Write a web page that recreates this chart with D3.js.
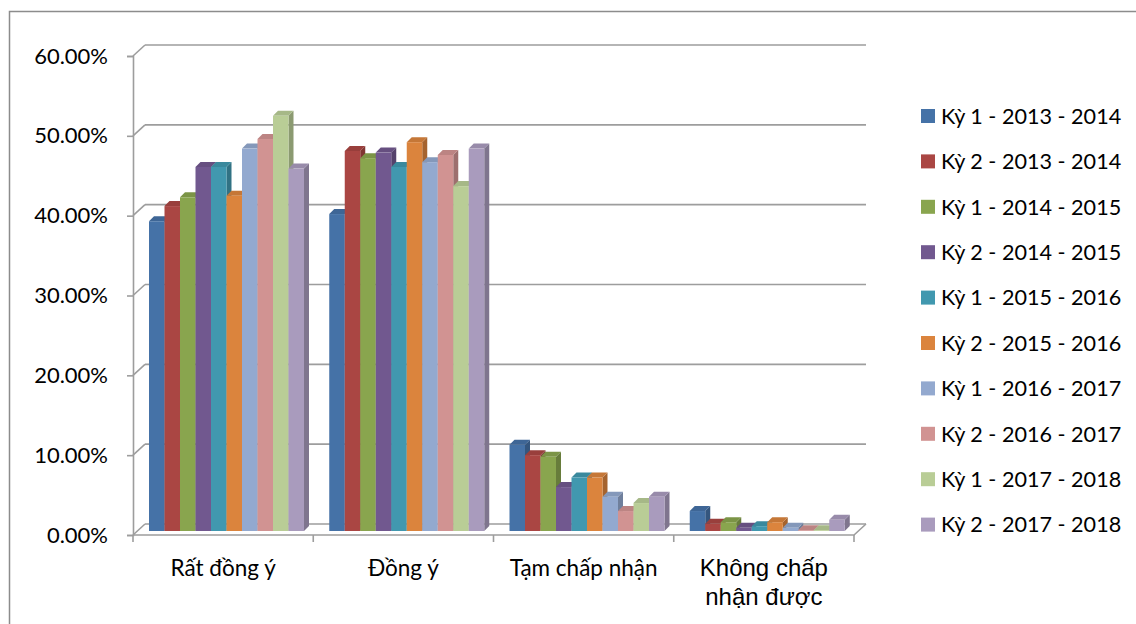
<!DOCTYPE html>
<html>
<head>
<meta charset="utf-8">
<script src="https://cdn.jsdelivr.net/npm/d3@7"></script>
<style>
  body { margin: 0; background: #fff; }
  svg { display: block; font-family: Lato, "Open Sans", sans-serif; }
</style>
</head>
<body>
<div class="container"></div>
<script>
// categories + series
const categories = ["Rất đồng ý", "Đồng ý", "Tạm chấp nhận", "Không chấp nhận được"];
const series = [
  "Kỳ 1 - 2013 - 2014", "Kỳ 2 - 2013 - 2014", "Kỳ 1 - 2014 - 2015", "Kỳ 2 - 2014 - 2015",
  "Kỳ 1 - 2015 - 2016", "Kỳ 2 - 2015 - 2016", "Kỳ 1 - 2016 - 2017", "Kỳ 2 - 2016 - 2017",
  "Kỳ 1 - 2017 - 2018", "Kỳ 2 - 2017 - 2018"
];
const colors = ["#4572a7", "#aa4643", "#89a54e", "#71588f", "#4198af",
  "#db843d", "#93a9cf", "#d19392", "#b9cd96", "#a99bbd"];

// one array per category, values in the order of series
const ratDongY = [0.388, 0.407, 0.418, 0.456, 0.456, 0.420, 0.479, 0.491, 0.520, 0.454];
const dongY = [0.397, 0.476, 0.467, 0.474, 0.456, 0.487, 0.462, 0.471, 0.432, 0.479];
const tamChapNhan = [0.108, 0.095, 0.093, 0.055, 0.067, 0.067, 0.043, 0.025, 0.035, 0.043];
const khongChapNhan = [0.025, 0.009, 0.011, 0.004, 0.006, 0.011, 0.004, 0.001, 0.001, 0.014];
const values = [ratDongY, dongY, tamChapNhan, khongChapNhan];

const yTicks = [0, 0.1, 0.2, 0.3, 0.4, 0.5, 0.6];

const W = 1136, H = 624;
const depth = { dx: 12, dy: -11 }; // wall depth
const bd = 5; // bar depth

const svg = d3.select(".container").append("svg")
  .attr("width", W).attr("height", H);

// outer frame
svg.append("path")
  .attr("d", `M9.5,${H} V11.5 H${W}`)
  .attr("fill", "none").attr("stroke", "#8c8c8c").attr("stroke-width", 1.5);

const x = d3.scaleBand().domain(categories).range([133, 854]).paddingInner(0).paddingOuter(0);
const y = d3.scaleLinear().domain([0, 0.6]).range([535, 56]);
const yBack = y.copy().range([535 + depth.dy, 56 + depth.dy]);
const yBar = y.copy().range([531, 52]);
const x1 = d3.scaleBand().domain(series).range([16, 171]);
const color = d3.scaleOrdinal().domain(series).range(colors);

const grid = svg.append("g");
const xL = 133, xR = 854;

// back wall gridlines
grid.selectAll(".gl").data(yTicks).join("line")
  .attr("x1", xL + depth.dx).attr("x2", xR + depth.dx)
  .attr("y1", d => yBack(d)).attr("y2", d => yBack(d))
  .attr("stroke", "#9d9d9d").attr("stroke-width", 1.6);

// left wall diagonals
grid.selectAll(".dg").data(yTicks).join("line")
  .attr("x1", xL).attr("x2", xL + depth.dx)
  .attr("y1", d => y(d)).attr("y2", d => yBack(d))
  .attr("stroke", "#9d9d9d").attr("stroke-width", 1.6);

// floor outline
grid.append("path")
  .attr("d", `M${xL},${y(0)} H${xR} L${xR + depth.dx},${yBack(0)}`)
  .attr("fill", "none").attr("stroke", "#9d9d9d").attr("stroke-width", 1.6);

// bars
const flat = [];
categories.forEach((c, i) => {
  series.forEach((s, j) => flat.push({ cat: c, s: s, v: values[i][j] }));
});

const w = x1.bandwidth();
const bars = svg.append("g").selectAll("g").data(flat).join("g");

bars.each(function (d) {
  const g = d3.select(this);
  const x0 = x(d.cat) + x1(d.s);
  const yt = yBar(d.v), yb = yBar(0);
  const c = d3.color(color(d.s));
  // side
  g.append("path")
    .attr("d", `M${x0 + w},${yt} L${x0 + w + bd},${yt - bd} L${x0 + w + bd},${yb - bd} L${x0 + w},${yb} Z`)
    .attr("fill", c.darker(0.8));
  // top
  g.append("path")
    .attr("d", `M${x0},${yt} L${x0 + bd},${yt - bd} L${x0 + w + bd},${yt - bd} L${x0 + w},${yt} Z`)
    .attr("fill", c.darker(0.3));
  // front
  g.append("rect")
    .attr("x", x0).attr("y", yt)
    .attr("width", w).attr("height", yb - yt)
    .attr("fill", c);
});

// y axis
const yAxis = svg.append("g")
  .attr("transform", `translate(${xL},0)`)
  .call(d3.axisLeft(y).tickValues(yTicks).tickFormat(d3.format(".2%")).tickSize(6).tickPadding(19));
yAxis.select(".domain").attr("stroke", "#9d9d9d").attr("stroke-width", 1.6);
yAxis.selectAll(".tick line").attr("stroke", "#9d9d9d").attr("stroke-width", 1.6);
yAxis.selectAll(".tick text")
  .style("font-family", "Lato, sans-serif").style("font-size", "22px").attr("fill", "#000");

// x axis boundary ticks
const bounds = categories.map(c => x(c)).concat([xR]);
svg.append("g").selectAll("line").data(bounds).join("line")
  .attr("x1", d => d).attr("x2", d => d)
  .attr("y1", y(0)).attr("y2", y(0) + 7)
  .attr("stroke", "#9d9d9d").attr("stroke-width", 1.6);

// category labels
const labels = svg.append("g").selectAll("text").data(categories).join("text")
  .attr("x", d => x(d) + x.bandwidth() / 2)
  .attr("y", 576)
  .attr("text-anchor", "middle")
  .style("font-size", "22.5px");

labels.filter((d, i) => i < 3).text(d => d);
labels.filter((d, i) => i === 3)
  .style("font-family", "'Liberation Sans', Arial, sans-serif")
  .style("font-size", "24px")
  .selectAll("tspan").data(["Không chấp", "nhận được"]).join("tspan")
  .attr("x", d => x(categories[3]) + x.bandwidth() / 2)
  .attr("dy", (d, i) => i === 0 ? 0 : 29)
  .text(d => d);

// legend
const legend = svg.append("g").selectAll("g").data(series).join("g")
  .attr("transform", (d, i) => `translate(921, ${116 + i * 45.4})`);
legend.append("rect")
  .attr("x", 0).attr("y", -7).attr("width", 14).attr("height", 14)
  .attr("fill", d => color(d));
legend.append("text")
  .attr("x", 20).attr("y", 0).attr("dy", "0.36em")
  .style("font-size", "21.6px")
  .text(d => d);
</script>
</body>
</html>
